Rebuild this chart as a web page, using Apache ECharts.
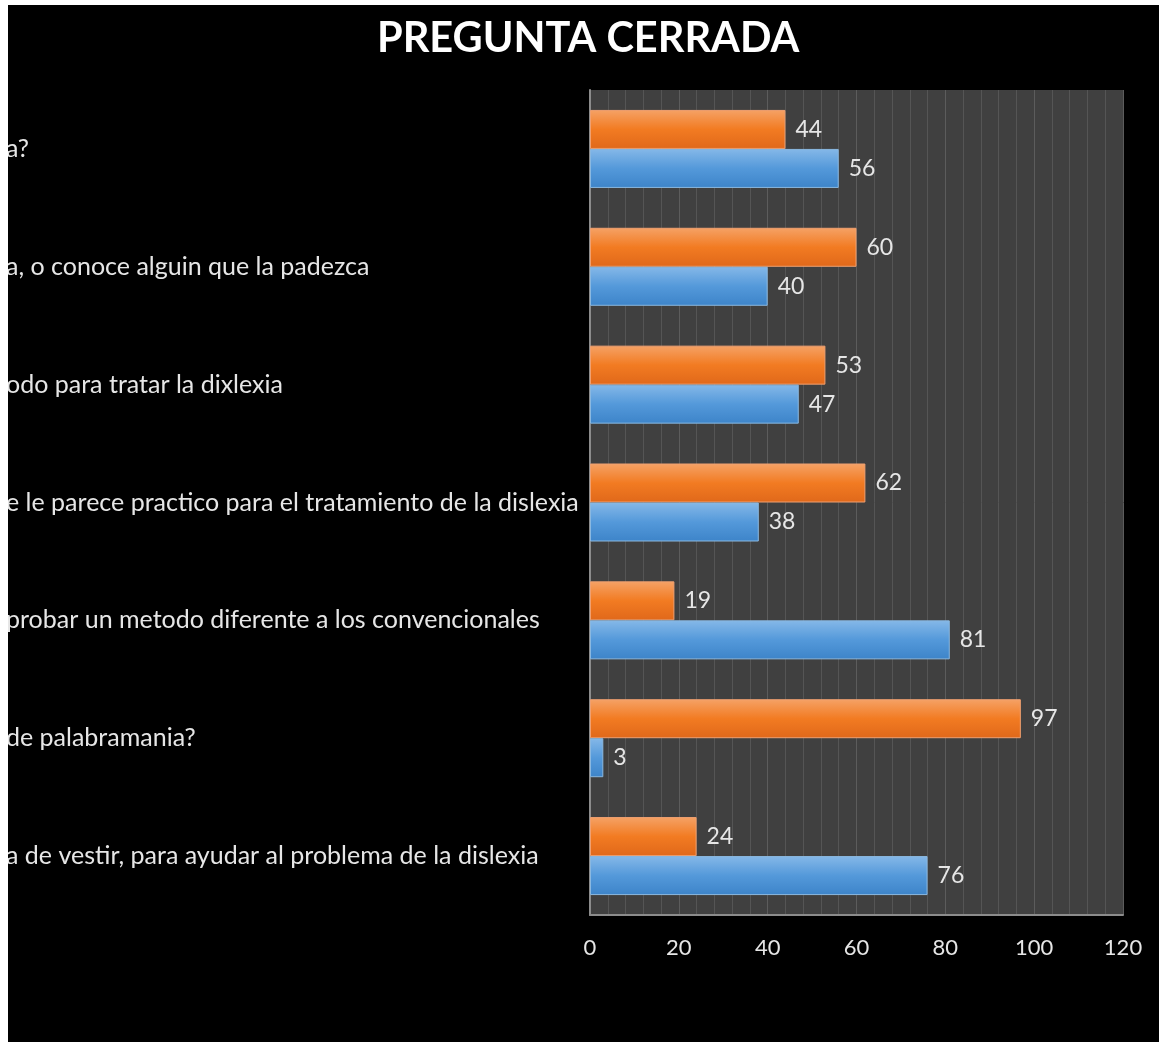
<!DOCTYPE html>
<html>
<head>
<meta charset="utf-8">
<script src="https://cdn.jsdelivr.net/npm/echarts@6/dist/echarts.min.js"></script>
<style>
    html, body { margin: 0; padding: 0; background: #ffffff; }
    #chart { position: absolute; left: 8px; top: 5px; width: 1151px; height: 1037px; background: #000000; }
</style>
</head>
<body>
<div id="chart"></div>
<script>
// visible parts of the question labels, top to bottom
var preguntas = [
    'a?',
    'a, o conoce alguin que la padezca',
    'odo para tratar la dixlexia',
    'e le parece practico para el tratamiento de la dislexia',
    'probar un metodo diferente a los convencionales',
    'de palabramania?',
    'a de vestir, para ayudar al problema de la dislexia'
];
var serieNaranja = [44, 60, 53, 62, 19, 97, 24];
var serieAzul = [56, 40, 47, 38, 81, 3, 76];
var ejeTicks = [0, 20, 40, 60, 80, 100, 120];

var FONT = 'Lato';

function degradado(c1, c2, c3) {
    return {
        type: 'linear', x: 0, y: 0, x2: 0, y2: 1,
        colorStops: [
            {offset: 0, color: c1},
            {offset: 0.5, color: c2},
            {offset: 1, color: c3}
        ]
    };
}

var myChart = echarts.init(document.getElementById('chart'));
var option = {
    backgroundColor: '#000000',
    animation: false,
    title: {
        text: 'PREGUNTA CERRADA',
        left: 364,
        top: 8,
        textStyle: {color: '#ffffff', fontFamily: FONT, fontWeight: 'bold', fontSize: 41.5}
    },
    grid: {
        left: 582, right: 36, top: 85, bottom: 127,
        outerBoundsMode: 'none',
        containLabel: false,
        show: true, backgroundColor: '#404040', borderWidth: 0
    },
    xAxis: {
        type: 'value',
        min: ejeTicks[0],
        max: ejeTicks[ejeTicks.length - 1],
        interval: 20,
        axisLine: {show: true, lineStyle: {color: '#8c8c8c', width: 2}},
        axisTick: {show: false},
        axisLabel: {color: '#e6e6e6', fontFamily: FONT, fontSize: 22, margin: 22},
        splitLine: {show: true, lineStyle: {color: '#5c5c5c', width: 1}},
        minorTick: {show: false, splitNumber: 5},
        minorSplitLine: {show: true, lineStyle: {color: '#555555', width: 1}}
    },
    yAxis: {
        type: 'category',
        inverse: true,
        data: preguntas,
        axisLine: {show: true, lineStyle: {color: '#8c8c8c', width: 2}},
        axisTick: {show: false},
        axisLabel: {
            interval: 0,
            align: 'left',
            margin: 584,
            color: '#e6e6e6',
            fontFamily: FONT,
            fontSize: 25
        }
    },
    series: [
        {
            name: 'No',
            type: 'bar',
            data: serieNaranja,
            barWidth: 39,
            barGap: '0%',
            itemStyle: {color: degradado('#f5a266', '#f27b22', '#e0681a'), borderColor: '#f0a070', borderWidth: 1},
            label: {show: true, position: 'right', distance: 10, color: '#e6e6e6', fontFamily: FONT, fontSize: 23}
        },
        {
            name: 'Si',
            type: 'bar',
            data: serieAzul,
            barWidth: 39,
            barGap: '0%',
            itemStyle: {color: degradado('#85b8e8', '#5499da', '#3d84c9'), borderColor: '#8ab8e0', borderWidth: 1},
            label: {show: true, position: 'right', distance: 10, color: '#e6e6e6', fontFamily: FONT, fontSize: 23}
        }
    ]
};
myChart.setOption(option);
</script>
</body>
</html>
